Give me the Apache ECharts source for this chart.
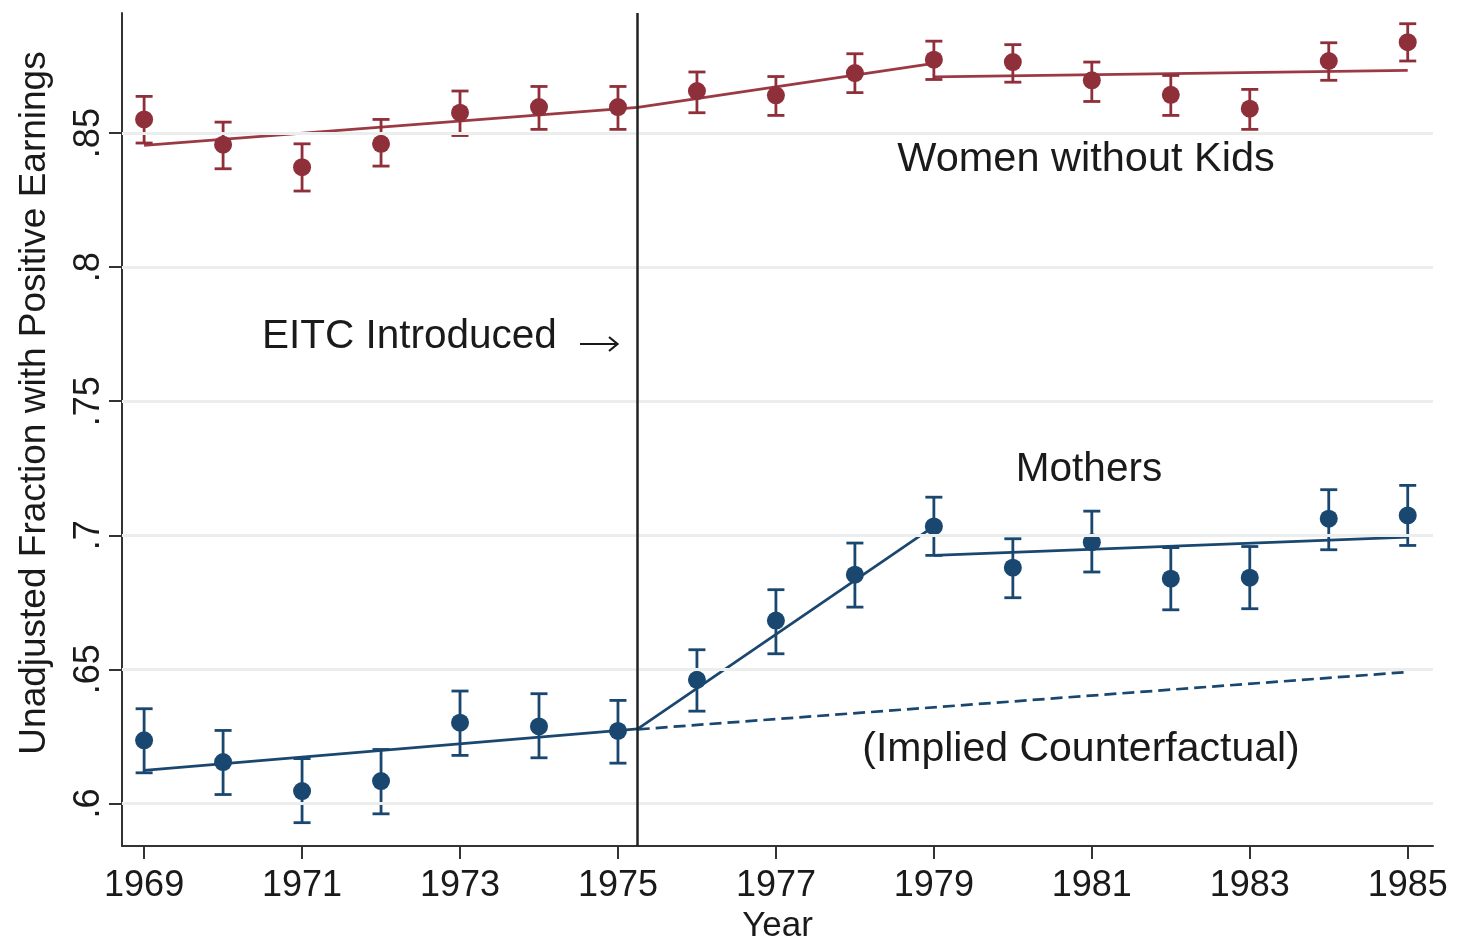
<!DOCTYPE html>
<html>
<head>
<meta charset="utf-8">
<script src="https://cdn.jsdelivr.net/npm/echarts@6/dist/echarts.min.js"></script>
<style>
html,body{margin:0;padding:0;background:#fff;}
#chart{width:1458px;height:941px;}
</style>
</head>
<body>
<div id="chart"></div>
<script>
// ---- data ----
const years = [1969,1970,1971,1972,1973,1974,1975,1976,1977,1978,1979,1980,1981,1982,1983,1984,1985];
const womenVal = [.8551,.8457,.8373,.8460,.8576,.8597,.8597,.8657,.8641,.8724,.8774,.8765,.8697,.8643,.8591,.8769,.8839];
const womenHi  = [.8637,.8541,.8460,.8551,.8657,.8674,.8674,.8728,.8711,.8796,.8843,.8830,.8765,.8715,.8663,.8837,.8908];
const womenLo  = [.8463,.8367,.8284,.8377,.8491,.8514,.8514,.8576,.8566,.8651,.8700,.8690,.8618,.8566,.8514,.8697,.8769];
const mothersVal = [.6235,.6154,.6046,.6083,.6301,.6287,.6270,.6461,.6682,.6853,.7033,.6879,.6974,.6838,.6842,.7062,.7074];
const mothersHi  = [.6353,.6272,.6167,.6201,.6419,.6409,.6384,.6573,.6797,.6971,.7142,.6987,.7090,.6954,.6958,.7170,.7186];
const mothersLo  = [.6114,.6033,.5928,.5961,.6179,.6170,.6150,.6344,.6558,.6732,.6925,.6767,.6863,.6722,.6726,.6946,.6962];
// fitted segments [year, value]
const womenFitPre  = [[1969,.8454],[1975.25,.8596]];
const womenFitMid  = [[1975.25,.8596],[1979,.8760]];
const womenFitPost = [[1979,.8710],[1985,.8734]];
const mothersFitPre  = [[1969,.6123],[1975.25,.6278]];
const mothersFitMid  = [[1975.25,.6278],[1979,.7033]];
const mothersFitPost = [[1979,.6925],[1985,.6993]];
const counterfactual = [[1975.25,.6276],[1985,.6490]];
const eitcYear = 1975.25;
const xTicks = [1969,1971,1973,1975,1977,1979,1981,1983,1985];
const yTicks = [.6,.65,.7,.75,.8,.85];

// ---- style ----
const RED = '#8E2F3A', RED_LINE = '#9B3A45', BLUE = '#1A476F';
const FONT = 'Liberation Sans, Arial, sans-serif';
const TXT = '#1a1a1a';

function errSeries(lo, hi, color) {
  return {
    type: 'custom',
    silent: true,
    data: years.map((y, i) => [y, lo[i], hi[i]]),
    encode: {x: 0, y: [1, 2]},
    z: 3,
    renderItem(params, api) {
      const x = api.value(0);
      const t = api.coord([x, api.value(2)]);
      const b = api.coord([x, api.value(1)]);
      const w = 8.5;
      const st = {stroke: color, lineWidth: 2.8};
      return {type: 'group', children: [
        {type: 'line', shape: {x1: t[0], y1: t[1], x2: b[0], y2: b[1]}, style: st},
        {type: 'line', shape: {x1: t[0]-w, y1: t[1], x2: t[0]+w, y2: t[1]}, style: st},
        {type: 'line', shape: {x1: b[0]-w, y1: b[1], x2: b[0]+w, y2: b[1]}, style: st}
      ]};
    }
  };
}
function fitLine(data, color, dashed) {
  return {
    type: 'line', data: data, symbol: 'none', silent: true, z: 2,
    lineStyle: {color: color, width: 2.7, type: dashed ? [12, 6] : 'solid'}
  };
}
function dots(vals, color) {
  return {
    type: 'scatter', data: years.map((y, i) => [y, vals[i]]),
    symbol: 'circle', symbolSize: 18, z: 4, silent: true,
    itemStyle: {color: color, opacity: 1}
  };
}

const chart = echarts.init(document.getElementById('chart'));
chart.setOption({
  animation: false,
  backgroundColor: '#fff',
  grid: {left: 122, right: 25, top: 13, bottom: 95, containLabel: false, outerBoundsMode: 'none'},
  xAxis: {
    type: 'value', min: 1968.72, max: 1985.32,
    name: 'Year', nameLocation: 'middle', nameGap: 60,
    nameTextStyle: {fontFamily: FONT, fontSize: 35, color: TXT},
    axisLine: {show: true, onZero: false, lineStyle: {color: '#333', width: 2}},
    axisTick: {show: true, length: 13, customValues: xTicks, lineStyle: {color: '#333', width: 2}},
    axisLabel: {customValues: xTicks, fontFamily: FONT, fontSize: 36, color: TXT, margin: 22,
      formatter: v => String(v)},
    splitLine: {show: false}
  },
  yAxis: {
    type: 'value', min: 0.5841, max: 0.8948,
    axisLine: {show: true, onZero: false, lineStyle: {color: '#333', width: 2}},
    axisTick: {show: true, length: 13, customValues: yTicks, lineStyle: {color: '#333', width: 2}},
    axisLabel: {customValues: yTicks, rotate: 90, fontFamily: FONT, fontSize: 36, color: TXT, margin: 15,
      formatter: v => String(Math.round(v*100)/100).replace(/^0/, '')},
    splitLine: {show: false}
  },
  series: [
    {
      type: 'line', data: [], silent: true, z: 1,
      markLine: {
        silent: true, symbol: 'none', label: {show: false},
        lineStyle: {color: '#ECEEEE', width: 3, type: 'solid'},
        data: yTicks.map(v => ({yAxis: v}))
      }
    },
    {
      type: 'line', data: [], silent: true, z: 5,
      markLine: {
        silent: true, symbol: 'none', label: {show: false},
        lineStyle: {color: '#222', width: 2.5, type: 'solid'},
        data: [{xAxis: eitcYear}]
      }
    },
    fitLine(womenFitPre, RED_LINE), fitLine(womenFitMid, RED_LINE), fitLine(womenFitPost, RED_LINE),
    fitLine(mothersFitPre, BLUE), fitLine(mothersFitMid, BLUE), fitLine(mothersFitPost, BLUE),
    fitLine(counterfactual, BLUE, true),
    errSeries(womenLo, womenHi, RED), errSeries(mothersLo, mothersHi, BLUE),
    dots(womenVal, RED), dots(mothersVal, BLUE)
  ],
  graphic: [
    {type: 'text', x: 35, y: 403, rotation: Math.PI / 2,
      style: {text: 'Unadjusted Fraction with Positive Earnings', fontFamily: FONT, fontSize: 37, fill: TXT, align: 'center', verticalAlign: 'middle'}},
    {type: 'text', x: 1086, y: 160, style: {text: 'Women without Kids', fontFamily: FONT, fontSize: 41.5, fill: TXT, align: 'center', verticalAlign: 'middle'}},
    {type: 'text', x: 262, y: 337, style: {text: 'EITC Introduced', fontFamily: FONT, fontSize: 40.5, fill: TXT, align: 'left', verticalAlign: 'middle'}},
    {type: 'line', shape: {x1: 580, y1: 344, x2: 617, y2: 344}, style: {stroke: TXT, lineWidth: 2.2}},
    {type: 'polyline', shape: {points: [[609, 337], [617.5, 344], [609, 351]]}, style: {stroke: TXT, lineWidth: 2.2, fill: null}},
    {type: 'text', x: 1089, y: 470, style: {text: 'Mothers', fontFamily: FONT, fontSize: 40.5, fill: TXT, align: 'center', verticalAlign: 'middle'}},
    {type: 'text', x: 1081, y: 750, style: {text: '(Implied Counterfactual)', fontFamily: FONT, fontSize: 41, fill: TXT, align: 'center', verticalAlign: 'middle'}}
  ]
});
</script>
</body>
</html>
